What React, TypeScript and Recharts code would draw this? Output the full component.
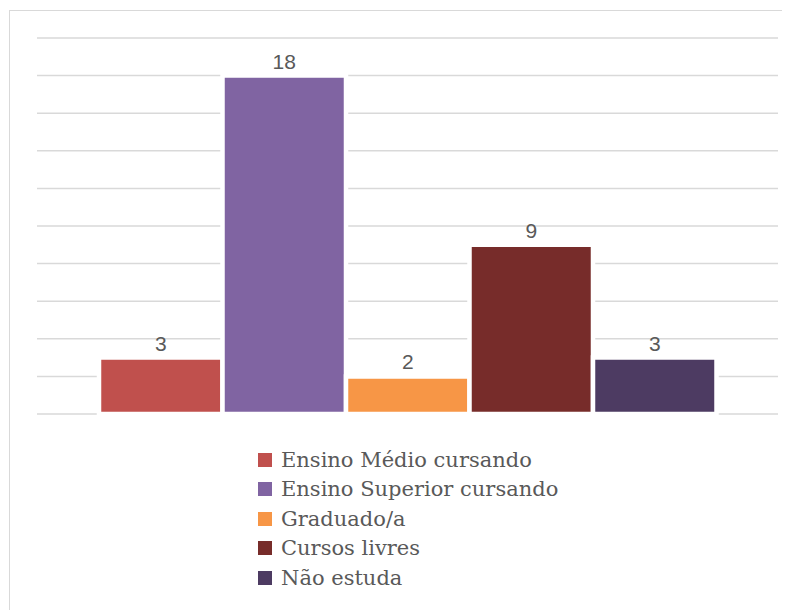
import { BarChart, Bar, YAxis, XAxis, CartesianGrid, LabelList } from 'recharts'

const seriesNames = [
  'Ensino Médio cursando',
  'Ensino Superior cursando',
  'Graduado/a',
  'Cursos livres',
  'Não estuda',
]
const seriesValues = [3, 18, 2, 9, 3]
const seriesColors = ['#c0504d', '#8064a2', '#f79646', '#772c2a', '#4d3b62']
const yTicks = [0, 2, 4, 6, 8, 10, 12, 14, 16, 18, 20]

const keys = seriesNames.map((_, i) => `s${i}`)
const row: Record<string, string | number> = { cat: '' }
keys.forEach((k, i) => {
  row[k] = seriesValues[i]
})
const data = [row]

export default function App() {
  return (
    <div style={{ paddingTop: 2, paddingLeft: 1 }}>
      <div
        style={{
          width: 781,
          height: 600,
          border: '1px solid #d9d9d9',
          borderRight: 'none',
          borderBottom: 'none',
          background: '#fff',
        }}
      >
        <BarChart
          width={780}
          height={420}
          data={data}
          margin={{ top: 27, right: 12, bottom: 17, left: 27 }}
          barGap={0}
        >
          <CartesianGrid
            vertical={false}
            stroke="#d9d9d9"
            strokeWidth={1.5}
          />
          <XAxis dataKey="cat" hide />
          <YAxis hide domain={[0, 20]} ticks={yTicks} />
          {keys.map((k, i) => (
            <Bar
              key={k}
              dataKey={k}
              name={seriesNames[i]}
              fill={seriesColors[i]}
              stroke="#fff"
              strokeWidth={4.5}
              barSize={123.5}
              isAnimationActive={false}
            >
              <LabelList
                dataKey={k}
                position="top"
                offset={7}
                fill="#595959"
                style={{ fontFamily: 'Liberation Sans, Arial, sans-serif', fontSize: 21 }}
              />
            </Bar>
          ))}
        </BarChart>
        <div style={{ marginLeft: 248, marginTop: 14 }}>
          {seriesNames.map((name, i) => (
            <div
              key={name}
              style={{
                height: 29.5,
                display: 'flex',
                alignItems: 'center',
                fontFamily: '"DejaVu Serif", serif',
                fontSize: 21,
                color: '#595959',
                whiteSpace: 'nowrap',
              }}
            >
              <span
                style={{
                  display: 'inline-block',
                  width: 14,
                  height: 14,
                  background: seriesColors[i],
                  marginRight: 9,
                }}
              />
              {name}
            </div>
          ))}
        </div>
      </div>
    </div>
  )
}
